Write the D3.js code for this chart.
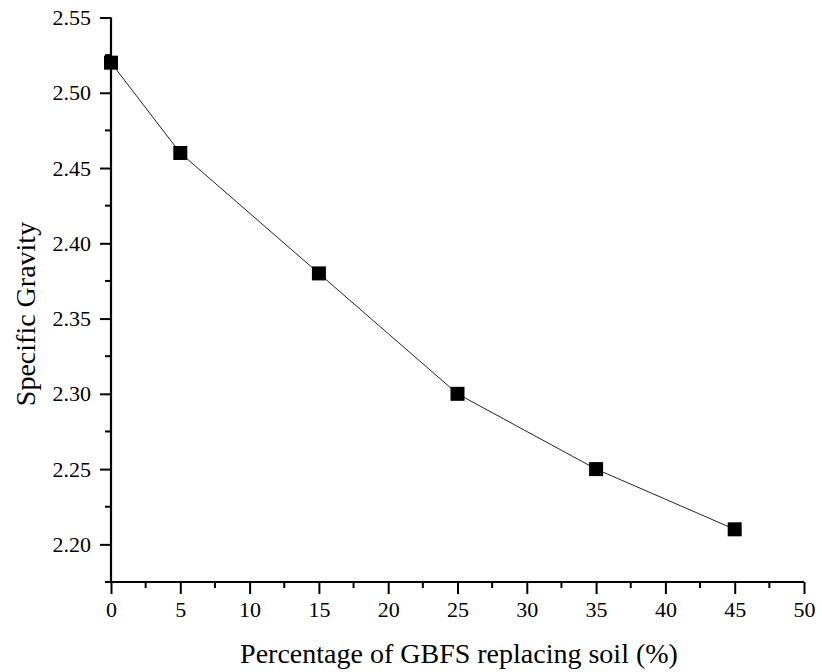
<!DOCTYPE html>
<html><head><meta charset="utf-8">
<script src="https://cdn.jsdelivr.net/npm/d3@7"></script>
<style>body{margin:0;background:#fff}svg{display:block}</style>
</head><body>
<script>
const xValues = [0, 5, 15, 25, 35, 45];
const yValues = [2.52, 2.46, 2.38, 2.30, 2.25, 2.21];
const xTicks = [0, 5, 10, 15, 20, 25, 30, 35, 40, 45, 50];
const yTicks = [2.20, 2.25, 2.30, 2.35, 2.40, 2.45, 2.50, 2.55];
const xLabel = "Percentage of GBFS replacing soil (%)";
const yLabel = "Specific Gravity";

const W = 822, H = 672;
const svg = d3.select("body").append("svg").attr("width", W).attr("height", H);
const x = d3.scaleLinear().domain([0, 50]).range([111, 804]);
const y = d3.scaleLinear().domain([2.175, 2.55]).range([582, 17.5]);
const font = "'Liberation Serif','Times New Roman',serif";

// minor ticks
const xMinor = d3.range(2.5, 50, 5);
const yMinor = d3.range(2.175, 2.55, 0.05);
const g = svg.append("g");
g.selectAll(".xm").data(xMinor).join("line")
  .attr("x1", d => x(d)).attr("x2", d => x(d)).attr("y1", 582).attr("y2", 588)
  .attr("stroke", "#000").attr("stroke-width", 2);
g.selectAll(".ym").data(yMinor).join("line")
  .attr("y1", d => y(d)).attr("y2", d => y(d)).attr("x1", 111).attr("x2", 105)
  .attr("stroke", "#000").attr("stroke-width", 2);

const xAxis = d3.axisBottom(x).tickValues(xTicks).tickSize(12).tickPadding(7).tickFormat(d3.format("d"));
const yAxis = d3.axisLeft(y).tickValues(yTicks).tickSize(11).tickPadding(9).tickFormat(d3.format(".2f"));
const gx = svg.append("g").attr("transform", "translate(0,582)").call(xAxis);
const gy = svg.append("g").attr("transform", "translate(111,0)").call(yAxis);
[gx, gy].forEach(a => {
  a.select(".domain").attr("stroke", "#000").attr("stroke-width", 2.2);
  a.selectAll(".tick line").attr("stroke", "#000").attr("stroke-width", 2);
  a.selectAll("text").attr("font-family", font).attr("font-size", 22).attr("fill", "#000");
});
gy.select(".domain").attr("d", `M-0,${y(2.55)}V582`);
gx.select(".domain").attr("d", `M111,0H804`);

const data = xValues.map((v, i) => [v, yValues[i]]);
svg.append("path").datum(data)
  .attr("d", d3.line().x(d => x(d[0])).y(d => y(d[1])))
  .attr("fill", "none").attr("stroke", "#222").attr("stroke-width", 1);
svg.selectAll(".pt").data(data).join("rect")
  .attr("x", d => x(d[0]) - 7).attr("y", d => y(d[1]) - 7)
  .attr("width", 14).attr("height", 14).attr("fill", "#000");

svg.append("text").attr("x", 459).attr("y", 663).attr("text-anchor", "middle")
  .attr("font-family", font).attr("font-size", 28).text(xLabel);
svg.append("text").attr("transform", "translate(35,314) rotate(-90)").attr("text-anchor", "middle")
  .attr("font-family", font).attr("font-size", 28).text(yLabel);
</script>
</body></html>
